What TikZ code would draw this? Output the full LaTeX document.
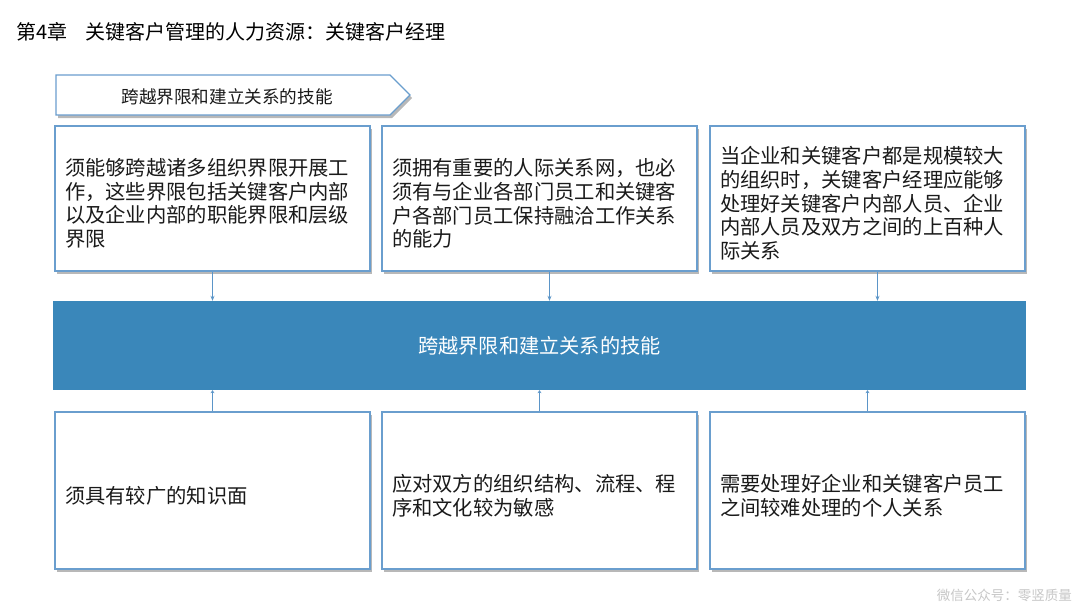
\documentclass[tikz,border=0pt]{standalone}
\usepackage{fontspec}
\setmainfont{Noto Sans CJK SC}
\usetikzlibrary{shadows,arrows.meta}
\definecolor{barblue}{HTML}{3A87BA}
\definecolor{edgeblue}{HTML}{6A9ECE}
\definecolor{lineblue}{HTML}{5B95C8}
\definecolor{txt}{HTML}{1A1A1A}
\newcommand{\padtop}{\rule{0pt}{27pt}}
\tikzset{
  card/.style={draw=edgeblue, line width=1.2pt, fill=white,
    drop shadow={shadow xshift=2pt, shadow yshift=-3pt, fill=black, opacity=0.28},
    minimum width=315pt, minimum height=145pt, text width=295pt,
    inner xsep=10pt, inner ysep=0pt, align=left, text=txt,
    font=\fontsize{20.3}{23.7}\selectfont},
  lowcard/.style={card, minimum height=157pt},
  conn/.style={draw=lineblue, line width=1pt, -{Stealth[length=5pt,width=4pt]}},
}
\begin{document}
\begin{tikzpicture}[x=1pt,y=-1pt]
\useasboundingbox (0,0) rectangle (1080,608);
\fill[white] (0,0) rectangle (1080,608);

% title
\node[anchor=west, inner sep=0pt, font=\fontsize{20}{24}\selectfont, text=black] (title) at (16,32)
  {第4章\hspace{18pt}关键客户管理的人力资源：关键客户经理};

% pentagon tag
\coordinate (p1) at (56,75);
\coordinate (p2) at (390,75);
\coordinate (p3) at (410,95);
\coordinate (p4) at (390,115);
\coordinate (p5) at (56,115);
\draw[draw=edgeblue, line width=1.2pt, fill=white,
  drop shadow={shadow xshift=2pt, shadow yshift=-3pt, fill=black, opacity=0.28}]
  (p1) -- (p2) -- (p3) -- (p4) -- (p5) -- cycle;
\node[inner sep=0pt, font=\fontsize{17.6}{20}\selectfont, text=txt] (tag) at (227,97) {跨越界限和建立关系的技能};

% top cards
\node[card] (t1) at (212.5,198.5) {\padtop 须能够跨越诸多组织界限开展工\\作，这些界限包括关键客户内部\\以及企业内部的职能界限和层级\\界限};
\node[card] (t2) at (539.5,198.5) {\padtop 须拥有重要的人际关系网，也必\\须有与企业各部门员工和关键客\\户各部门员工保持融洽工作关系\\的能力};
\node[card] (t3) at (867.5,198.5) {\padtop 当企业和关键客户都是规模较大\\的组织时，关键客户经理应能够\\处理好关键客户内部人员、企业\\内部人员及双方之间的上百种人\\际关系};

% central bar
\node[fill=barblue, minimum width=973pt, minimum height=89pt, inner sep=0pt,
  text=white, font=\fontsize{20.2}{24}\selectfont] (bar) at (539.5,345.5) {跨越界限和建立关系的技能};

% bottom cards
\node[lowcard] (b1) at (212.5,490.5) {\padtop 须具有较广的知识面};
\node[lowcard] (b2) at (539.5,490.5) {\padtop 应对双方的组织结构、流程、程\\序和文化较为敏感};
\node[lowcard] (b3) at (867.5,490.5) {\padtop 需要处理好企业和关键客户员工\\之间较难处理的个人关系};

% connectors
\draw[conn] (t1.south) -- (t1.south |- bar.north);
\draw[conn] ([xshift=10pt]t2.south) -- ([xshift=10pt]t2.south |- bar.north);
\draw[conn] ([xshift=10pt]t3.south) -- ([xshift=10pt]t3.south |- bar.north);
\draw[conn, -{Stealth[length=3pt,width=4pt]}] (b1.north) -- (b1.north |- bar.south);
\draw[conn, -{Stealth[length=3pt,width=4pt]}] (b2.north) -- (b2.north |- bar.south);
\draw[conn, -{Stealth[length=3pt,width=4pt]}] (b3.north) -- (b3.north |- bar.south);

% watermark
\node[anchor=east, inner sep=0pt, text=black!22, font=\fontsize{13.5}{16}\selectfont] (wm) at (1072,595) {微信公众号：零竖质量};
\end{tikzpicture}
\end{document}
